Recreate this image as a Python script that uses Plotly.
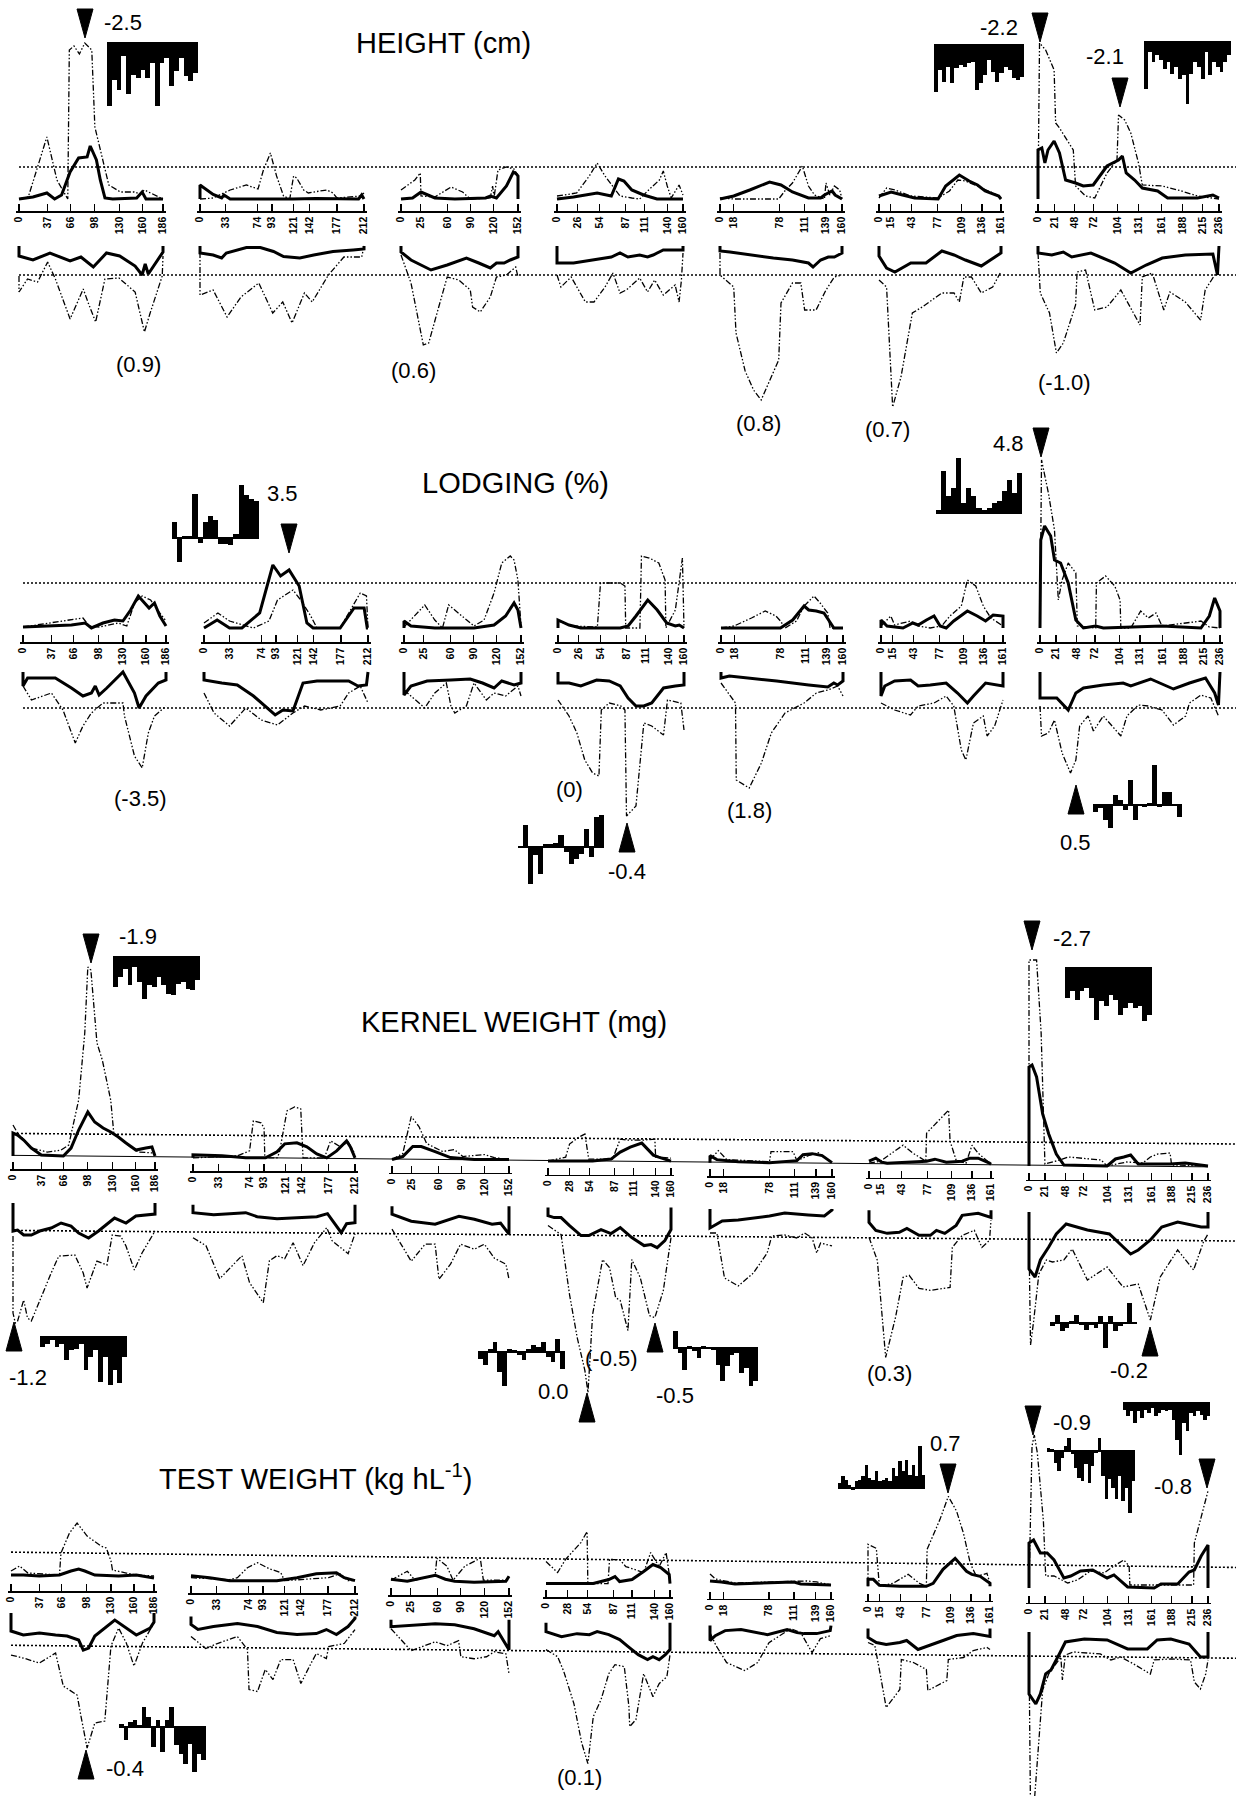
import plotly.graph_objects as go

W, H = 1236, 1796
UNIT = 10.0   # pixels per unit of test statistic
FONT = "Liberation Sans, Arial, Helvetica, sans-serif"

# ---------------- tick labels (cM) ----------------
chr1_ticks = [0, 37, 66, 98, 130, 160, 186]
chr2_ticks = [0, 33, 74, 93, 121, 142, 177, 212]
chr3_ticks = [0, 25, 60, 90, 120, 152]
chr4_ticks_a = [0, 26, 54, 87, 111, 140, 160]
chr4_ticks_b = [0, 28, 54, 87, 111, 140, 160]
chr5_ticks = [0, 18, 78, 111, 139, 160]
chr6_ticks = [0, 15, 43, 77, 109, 136, 161]
chr7_ticks = [0, 21, 48, 72, 104, 131, 161, 188, 215, 236]

# ---------------- HEIGHT profiles: (cM, statistic) ----------------
ht1_up_solid = [(0,0),(18,0.2),(36,0.6),(46,0),(55,0.4),(66,2.7),(77,4.1),(88,4.2),(92,5.3),(100,3.9),(105,1.9),(111,0.1),(121,0),(152,0.1),(159,0.7),(164,0),(186,0)]
ht1_up_dash = [(0,0),(12,0.2),(36,6.2),(49,1.9),(63,0),(65,14.9),(71,15.3),(78,14.5),(85,15.6),(94,14.9),(98,7.2),(106,4.6),(116,1.4),(131,0.7),(149,0.7),(156,0.5),(162,0.9),(186,0)]
ht1_lo_solid = [(0,0),(0,1.0),(18,1.4),(40,0.7),(66,1.5),(80,1.1),(96,2.1),(113,0.7),(130,1.0),(150,2.0),(159,2.9),(163,1.8),(167,2.8),(186,0.6),(186,0)]
ht1_lo_dash = [(0,3.0),(0,4.6),(11,3.3),(24,3.6),(37,1.6),(47,3.3),(66,7.3),(83,4.3),(89,5.6),(99,7.6),(111,3.3),(129,3.2),(150,4.6),(162,8.6),(169,6.8),(185,3.0),(186,1.0)]
ht2_up_solid = [(0,0),(0,1.4),(17,0.45),(28,0.1),(31,0.4),(39,0),(120,0),(150,0.05),(205,0),(209,0.4),(212,0)]
ht2_up_dash = [(0,0),(17,0.1),(39,0.9),(60,1.4),(75,1.0),(82,2.9),(91,4.6),(99,2.3),(108,0.3),(116,0),(121,2.3),(125,2.1),(134,0.9),(140,0.6),(155,0.8),(164,0.9),(172,0.6),(177,0.1),(207,0.3),(212,0.6)]
ht2_lo_solid = [(0,0),(0,0.7),(17,0.9),(28,1.2),(34,0.7),(60,0.15),(78,0.15),(95,0.55),(108,1.05),(129,1.2),(147,0.9),(172,0.55),(198,0.4),(212,0.3),(212,0)]
ht2_lo_dash = [(0,0.6),(0,4.9),(17,4.4),(35,7.1),(53,5.1),(76,3.7),(94,6.7),(107,5.6),(119,7.7),(135,4.7),(145,5.6),(166,2.9),(186,1.1),(209,1.1),(212,0)]
ht3_up_solid = [(0,0),(15,0.1),(26,0.7),(44,0.1),(70,0),(110,0.1),(116,0.3),(124,0.1),(137,1.3),(146,2.7),(150,2.5),(152,2.3),(152,0)]
ht3_up_dash = [(0,0.9),(18,1.9),(25,2.6),(26,0.3),(44,0.2),(65,1.2),(80,0.7),(90,0),(116,0.1),(119,1.3),(121,0.2),(126,2.9),(137,3.2),(147,3.0),(152,2.3)]
ht3_lo_solid = [(0,0),(0,0.6),(13,1.4),(39,2.4),(60,1.9),(85,1.2),(101,1.7),(116,2.2),(124,1.7),(134,1.7),(142,1.4),(152,1.1),(152,0)]
ht3_lo_dash = [(0,0.9),(13,3.7),(29,9.9),(36,9.7),(49,6.1),(60,3.1),(75,3.4),(90,4.4),(93,6.1),(103,6.6),(116,5.1),(124,3.1),(137,2.9),(149,2.1),(152,3.1)]
ht4_up_solid = [(0,0),(21,0.2),(51,0.6),(69,0.3),(78,2.0),(85,1.8),(95,0.9),(110,0.4),(127,0),(160,0)]
ht4_up_dash = [(0,0.3),(25,0.6),(41,2.3),(51,3.6),(61,2.3),(80,0.3),(95,0.1),(105,0),(115,0.8),(130,1.9),(135,2.8),(140,1.3),(145,0.1),(155,1.4),(160,0.4)]
ht4_lo_solid = [(0,0),(0,1.7),(21,1.7),(47,1.4),(69,1.1),(80,0.7),(90,1.1),(105,0.9),(115,1.1),(122,0.9),(135,0.4),(158,0.4),(160,0.4),(160,0)]
ht4_lo_dash = [(0,2.9),(5,4.1),(18,3.1),(36,5.6),(47,5.6),(61,4.1),(71,2.7),(80,4.7),(88,4.4),(105,3.2),(115,4.6),(124,3.4),(135,4.9),(150,3.9),(155,5.6),(158,3.4),(160,0.7)]
ht5_up_solid = [(0,0),(18,0.3),(39,0.9),(65,1.7),(80,1.4),(95,0.7),(116,0.1),(132,0.1),(137,0.4),(147,0.8),(151,0.4),(160,0)]
ht5_up_dash = [(0,0.1),(18,0),(77,0),(85,0.8),(95,1.6),(108,3.3),(116,1.3),(124,0.4),(137,0),(139,1.6),(144,0.4),(150,1.3),(157,0.9),(160,0)]
ht5_lo_solid = [(0,0),(0,0.5),(13,0.6),(39,0.9),(70,1.2),(95,1.4),(116,1.7),(122,2.1),(132,1.4),(142,1.1),(150,1.1),(160,0.7),(160,0)]
ht5_lo_dash = [(0,0.7),(0,2.9),(18,4.1),(21,8.7),(33,12.5),(44,14.4),(54,15.4),(67,13.1),(77,11.4),(80,5.7),(95,3.7),(106,3.7),(111,6.4),(126,6.4),(139,4.4),(150,3.1),(160,2.9)]
ht6_up_solid = [(0,0.3),(16,0.7),(31,0.4),(47,0.1),(78,0),(88,1.3),(106,2.4),(119,1.8),(130,1.4),(140,0.8),(158,0.3),(161,0)]
ht6_up_dash = [(0,0.1),(10,1.1),(21,0.9),(42,0.3),(78,0.1),(93,0.8),(104,1.9),(114,1.8),(130,1.3),(156,0.4),(161,0)]
ht6_lo_solid = [(0,0),(0,1.0),(10,2.2),(21,2.6),(42,1.7),(62,1.7),(83,0.5),(99,0.9),(114,1.4),(135,2.0),(161,0.7),(161,0)]
ht6_lo_dash = [(0,3.4),(10,4.1),(18,16.1),(29,13.1),(44,6.7),(57,6.1),(83,4.7),(99,4.7),(106,5.6),(112,3.1),(122,3.1),(135,4.7),(150,4.1),(160,2.7)]
ht7_up_solid = [(0,0),(0,4.9),(5,5.1),(9,3.6),(13,4.9),(21,5.8),(28,4.6),(36,1.9),(49,1.6),(59,1.3),(72,1.4),(90,3.3),(105,3.9),(110,4.3),(115,2.6),(126,1.9),(136,1.1),(156,0.8),(169,0.1),(208,0.1),(228,0.4),(236,0.1)]
ht7_up_dash = [(0,0),(2,15.6),(10,14.9),(21,12.9),(23,7.6),(28,7.1),(46,4.9),(49,1.3),(62,0.3),(74,0.1),(90,2.6),(103,3.9),(105,8.4),(113,7.9),(121,6.6),(131,3.6),(136,1.4),(162,1.3),(187,0.8),(208,0.3),(236,0)]
ht7_lo_solid = [(0,0),(0,0.7),(18,0.9),(26,0.7),(33,0.6),(44,1.1),(69,0.7),(100,1.7),(121,2.7),(141,1.9),(162,1.2),(192,0.9),(228,0.8),(234,2.9),(236,0)]
ht7_lo_dash = [(0,0.7),(3,4.7),(15,6.7),(24,10.7),(33,9.7),(49,5.9),(51,2.6),(62,2.4),(74,6.4),(90,6.1),(108,4.4),(133,7.9),(136,3.1),(149,2.7),(164,6.4),(172,4.6),(192,5.6),(212,7.4),(218,4.4),(233,2.6),(236,1.0)]

# ---------------- LODGING ----------------
lg1_up_solid = [(0,0.1),(32,0.2),(63,0.3),(81,0.5),(89,0),(104,0.5),(119,0.8),(130,0.7),(140,1.8),(150,3.2),(158,2.5),(164,2.0),(171,2.5),(178,1.2),(186,0.2)]
lg1_up_dash = [(0,0.1),(47,0.7),(60,0.8),(78,1.0),(86,0.2),(99,0.1),(124,0.5),(135,0.2),(145,2.5),(155,3.2),(166,2.8),(173,2.0),(186,0.7)]
lg1_lo_solid = [(0,0),(0,1.4),(6,0.6),(22,0.6),(42,0.6),(63,1.6),(78,2.4),(89,2.1),(94,1.4),(99,2.3),(109,1.6),(130,0),(145,2.1),(151,3.6),(160,2.4),(176,1.1),(186,0.8),(186,0)]
lg1_lo_dash = [(0,1.4),(11,2.8),(37,2.1),(52,3.8),(68,7.1),(78,5.4),(89,4.1),(104,3.1),(130,3.1),(132,4.4),(145,8.4),(155,9.6),(163,6.1),(171,4.4),(186,3.4)]
lg2_up_solid = [(0,0),(17,0.8),(33,0),(49,0),(72,1.5),(89,6.3),(99,5.2),(110,5.8),(123,4.2),(133,0.5),(141,0),(176,0),(194,2.0),(207,2.0),(211,0),(212,0)]
lg2_up_dash = [(0,0.5),(18,1.5),(33,0.7),(64,0),(84,0.7),(95,2.8),(115,3.8),(125,2.8),(138,1.2),(146,0),(176,0),(187,1.5),(202,3.5),(210,3.2),(212,0)]
lg2_lo_solid = [(0,0),(0,0.8),(23,1.1),(43,1.3),(64,2.4),(79,3.4),(92,4.3),(102,3.8),(115,3.9),(128,1.1),(146,0.9),(187,0.9),(199,1.4),(210,1.3),(212,0)]
lg2_lo_dash = [(0,2.1),(13,4.1),(33,5.4),(54,3.6),(74,4.8),(95,5.3),(115,4.1),(130,3.4),(151,3.8),(176,3.4),(187,2.1),(202,1.4),(212,3.1)]
lg3_up_solid = [(0,0),(0,0.7),(9,0.2),(40,0),(91,0),(117,0.3),(132,1.2),(143,2.5),(148,1.8),(152,0)]
lg3_up_dash = [(0,0.1),(14,1.2),(27,2.3),(40,0.8),(50,0),(58,2.3),(71,1.5),(91,0.2),(104,0.8),(117,3.5),(127,6.5),(138,7.2),(143,6.8),(148,4.8),(152,0.2)]
lg3_lo_solid = [(0,0),(0,2.3),(9,1.4),(30,0.9),(61,0.8),(86,0.7),(102,1.1),(117,1.6),(127,0.9),(143,1.3),(152,1.1),(152,0)]
lg3_lo_dash = [(0,1.8),(20,3.1),(27,3.6),(40,2.1),(55,1.1),(61,3.4),(66,4.1),(81,3.4),(91,1.1),(107,2.8),(117,2.1),(132,2.4),(148,1.4),(152,2.4)]
lg4_up_solid = [(0,0),(0,0.8),(14,0.3),(29,0),(79,0),(89,0.2),(99,1.2),(114,2.8),(126,1.8),(138,0.5),(149,0.2),(154,0.3),(160,0)]
lg4_up_dash = [(0,0.7),(19,0.2),(50,0.1),(54,4.5),(79,4.5),(85,4.2),(86,0),(104,0),(106,7.2),(116,7.0),(128,6.5),(136,4.8),(137,0),(149,1.8),(158,7.0),(160,0)]
lg4_lo_solid = [(0,0),(0,1.1),(14,1.1),(29,1.4),(49,0.8),(65,0.9),(79,1.4),(89,2.6),(99,3.4),(109,3.4),(119,3.1),(134,1.6),(149,1.4),(160,1.3),(160,0)]
lg4_lo_dash = [(0,2.8),(14,4.4),(24,6.1),(34,8.8),(44,10.1),(52,10.4),(55,3.8),(65,3.1),(80,3.4),(85,3.8),(87,14.4),(99,13.4),(109,5.1),(119,5.4),(134,6.3),(139,2.8),(156,3.1),(160,5.8)]
lg5_up_solid = [(0,0),(78,0),(94,0.8),(109,2.2),(115,1.8),(125,1.7),(135,1.5),(148,0),(160,0)]
lg5_up_dash = [(0,0),(17,0.2),(40,1.0),(58,1.7),(72,1.2),(78,0.7),(84,0),(99,0.7),(109,2.2),(122,3.2),(130,2.5),(140,1.5),(143,0),(160,0)]
lg5_lo_solid = [(0,0),(0,0.6),(11,0.4),(37,0.6),(73,0.9),(115,1.3),(140,1.5),(148,1.1),(153,1.3),(160,0.9),(160,0)]
lg5_lo_dash = [(0,1.1),(19,3.1),(20,10.8),(37,11.6),(53,9.1),(66,6.1),(84,4.1),(109,3.1),(125,2.1),(140,1.8),(153,1.4),(160,2.4)]
lg6_up_solid = [(0,0),(0,0.8),(8,0.2),(29,0),(42,0.5),(49,0.3),(60,0.8),(70,1.2),(78,0.2),(86,0),(96,0.7),(114,1.7),(127,1.2),(138,0.7),(148,1.3),(161,1.2),(161,0)]
lg6_up_dash = [(0,0.2),(13,1.2),(18,0.3),(39,0.7),(49,0.2),(65,0),(80,0.2),(91,1.2),(106,2.2),(114,4.8),(125,4.2),(135,2.2),(145,1.0),(161,0.2)]
lg6_lo_solid = [(0,0),(0,2.4),(5,1.4),(18,0.9),(39,0.8),(49,1.4),(65,1.3),(86,1.1),(101,2.1),(114,3.1),(122,2.4),(138,1.1),(161,1.4),(161,0)]
lg6_lo_dash = [(0,3.1),(18,3.8),(39,4.3),(49,3.4),(70,3.1),(86,2.4),(96,3.4),(106,7.8),(112,8.8),(122,5.1),(135,4.4),(140,6.4),(150,5.4),(161,2.8)]
lg7_up_solid = [(0,0),(1,8.8),(6,10.2),(14,9.2),(19,6.8),(27,6.5),(37,4.5),(47,0.8),(57,0),(73,0.2),(83,0),(119,0.1),(160,0.2),(211,0),(222,1.2),(229,3.0),(236,1.7),(236,0)]
lg7_up_dash = [(0,0),(2,16.8),(11,13.5),(19,9.8),(24,2.8),(29,4.8),(37,6.5),(47,5.5),(49,0.2),(73,0),(74,4.5),(86,5.2),(98,4.2),(105,2.8),(106,0),(119,0),(132,1.7),(142,1.0),(152,1.5),(160,0.2),(191,0.5),(211,0.7),(222,0.1),(236,0)]
lg7_lo_solid = [(0,0),(0,2.6),(22,2.6),(32,3.4),(37,3.8),(47,2.1),(57,1.6),(83,1.3),(109,1.1),(119,1.4),(145,0.7),(175,1.7),(196,1.1),(217,0.6),(229,2.1),(234,3.3),(236,0)]
lg7_lo_dash = [(0,3.4),(2,6.4),(11,6.1),(19,4.8),(22,5.8),(29,8.1),(40,10.1),(47,8.8),(52,5.4),(63,4.4),(70,5.9),(83,4.4),(106,6.4),(114,4.4),(129,3.3),(142,3.4),(160,3.8),(175,5.3),(191,4.4),(196,3.1),(211,2.3),(224,2.6),(234,4.4)]

# ---------------- KERNEL WEIGHT ----------------
kw1_up_solid = [(0,0),(0,2.3),(6,2.1),(14,1.6),(24,0.8),(37,0.1),(66,0),(76,0.8),(86,2.6),(98,4.4),(107,3.4),(118,2.8),(128,2.4),(138,1.9),(148,1.3),(161,0.6),(174,0.8),(182,0.9),(186,0)]
kw1_up_dash = [(0,3.1),(6,2.3),(24,0.8),(45,0.4),(63,0.6),(73,1.1),(86,5.6),(94,12.3),(98,18.9),(102,18.6),(110,11.3),(117,9.6),(128,5.6),(132,2.3),(138,1.9),(154,0.9),(164,0.4),(186,0.3)]
kw1_lo_solid = [(0,0),(0,2.8),(6,2.7),(14,3.2),(24,3.2),(35,2.8),(50,2.5),(63,2.0),(76,2.3),(86,3.0),(99,3.5),(112,2.8),(133,1.5),(148,2.0),(161,1.3),(179,1.2),(186,1.1),(186,0)]
kw1_lo_dash = [(0,3.3),(0,11.0),(3,12.0),(6,11.8),(14,9.7),(19,11.5),(24,11.8),(35,9.7),(50,7.0),(60,5.3),(81,5.2),(92,7.0),(97,8.5),(110,5.8),(123,6.2),(130,3.2),(141,3.3),(148,4.3),(159,6.7),(169,5.0),(186,2.8)]
kw2_up_solid = [(0,0),(0,0.3),(38,0.2),(69,0),(95,0),(110,0.6),(120,1.4),(136,1.5),(149,1.1),(162,0.4),(175,0),(188,0.7),(201,1.7),(206,1.1),(212,0)]
kw2_up_dash = [(0,0),(58,0.2),(74,0.7),(79,3.7),(89,3.5),(93,3.0),(94,0),(110,0),(113,0.5),(123,4.7),(133,5.1),(141,4.9),(144,0),(172,0),(180,1.7),(193,1.1),(203,1.6),(212,0.4)]
kw2_lo_solid = [(0,0),(0,0.8),(27,1.0),(69,0.8),(84,1.2),(110,1.4),(136,1.3),(162,1.2),(176,0.9),(194,2.8),(201,1.9),(212,1.8),(212,0)]
kw2_lo_dash = [(0,3.3),(17,4.1),(35,7.4),(64,5.1),(74,7.8),(92,9.8),(100,5.6),(110,5.1),(120,5.4),(131,3.8),(144,6.1),(159,3.8),(175,2.3),(182,3.6),(203,4.9),(212,2.9)]
kw3_up_solid = [(0,0),(14,0.3),(27,1.3),(38,1.3),(56,0.8),(76,0.2),(107,0),(152,0)]
kw3_up_dash = [(0,0),(14,0.6),(25,4.3),(35,3.3),(45,1.6),(66,0.8),(81,1.0),(92,0.3),(120,0.5),(133,0.2),(152,0)]
kw3_lo_solid = [(0,0),(0,0.8),(25,1.5),(56,1.8),(87,1.0),(107,1.3),(130,1.8),(141,1.7),(152,2.8),(152,0)]
kw3_lo_dash = [(0,2.3),(25,5.5),(43,3.8),(56,3.8),(61,7.3),(76,5.8),(89,3.8),(107,4.3),(120,3.8),(133,5.2),(148,5.8),(152,7.3)]
kw4_up_solid = [(0,0),(58,0),(70,0.1),(82,0.2),(94,0.9),(107,1.4),(122,1.8),(137,0.6),(144,0.4),(160,0)]
kw4_up_dash = [(0,0),(23,0.4),(28,1.7),(40,2.4),(48,2.7),(53,0.2),(84,0.2),(90,1.5),(94,2.2),(104,2.1),(124,2.1),(139,2.2),(140,0.4),(160,0.3)]
kw4_lo_solid = [(0,0),(0,0.8),(8,1.0),(17,1.0),(28,1.8),(43,2.8),(53,2.8),(69,2.2),(82,2.6),(94,2.0),(109,3.0),(125,3.8),(134,3.7),(142,4.0),(152,3.3),(160,2.2),(160,0)]
kw4_lo_dash = [(0,1.8),(17,2.7),(28,8.7),(38,13.0),(48,16.3),(52,18.5),(58,10.7),(71,5.2),(80,6.0),(88,9.0),(94,9.3),(104,12.3),(109,5.2),(120,7.0),(132,10.8),(139,11.0),(150,8.3),(160,3.0)]
kw5_up_solid = [(0,0),(0,0.7),(9,0.3),(37,0.1),(78,0),(114,0.2),(122,0.8),(134,0.9),(147,0.7),(160,0)]
kw5_up_dash = [(0,0.3),(11,1.2),(22,0.3),(78,0.1),(80,1.1),(109,1.1),(114,0.2),(129,0.7),(142,1.0),(155,0.3),(160,0)]
kw5_lo_solid = [(0,0),(0,1.9),(16,1.2),(37,1.1),(78,0.7),(98,0.4),(129,0.6),(150,0.7),(160,0.1),(160,0)]
kw5_lo_dash = [(0,2.4),(9,2.4),(19,6.9),(37,7.7),(57,6.4),(75,4.4),(81,2.7),(98,2.6),(114,2.9),(124,2.4),(134,2.9),(140,4.4),(145,3.4),(160,3.7)]
kw6_up_solid = [(0,0.3),(9,0.6),(17,0.2),(24,0.1),(76,0.3),(87,0.5),(102,0.2),(123,0.3),(133,0.6),(144,0.6),(159,0.1),(161,0)]
kw6_up_dash = [(0,0.1),(15,0.3),(30,1.1),(45,1.9),(58,1.1),(75,0.3),(76,3.1),(89,4.1),(105,5.4),(107,2.3),(115,0.4),(128,0.1),(136,1.9),(144,1.1),(161,0)]
kw6_lo_solid = [(0,0),(0,1.2),(9,2.0),(24,2.3),(40,2.2),(50,1.8),(66,2.5),(81,2.5),(89,2.0),(100,2.3),(115,1.5),(123,0.5),(144,0.3),(161,0.7),(161,0)]
kw6_lo_dash = [(0,2.7),(11,5.0),(22,14.7),(35,10.7),(45,6.7),(53,6.5),(66,7.8),(81,8.0),(107,7.7),(110,3.7),(123,2.5),(139,2.0),(149,3.7),(159,3.0),(161,1.0)]
kw7_up_solid = [(0,0),(0,9.9),(4,10.1),(10,8.9),(18,5.2),(26,3.2),(36,1.2),(46,0.1),(103,0),(114,0.7),(125,0.9),(134,1.1),(144,0.2),(186,0.2),(206,0.3),(236,0)]
kw7_up_dash = [(0,0),(0,20.6),(10,20.6),(16,13.3),(21,0.2),(41,0.6),(52,0.9),(75,0.7),(95,0.6),(103,0),(129,0.4),(150,0.3),(160,0.9),(170,1.2),(186,1.3),(188,0.1),(236,0)]
kw7_lo_solid = [(0,0),(0,5.7),(8,6.5),(15,4.8),(26,3.5),(36,2.2),(49,1.2),(77,1.8),(106,2.2),(134,4.2),(144,3.8),(160,2.8),(175,1.5),(196,1.0),(227,1.5),(236,1.5),(236,0)]
kw7_lo_dash = [(0,2.8),(2,13.3),(6,11.0),(13,6.2),(23,4.8),(31,5.0),(46,4.8),(57,3.7),(77,6.8),(103,5.5),(124,7.5),(144,7.2),(160,10.8),(173,6.5),(196,3.8),(217,5.8),(230,3.0),(236,2.2)]

# ---------------- TEST WEIGHT ----------------
tw1_up_solid = [(0,0.4),(16,0.4),(37,0.3),(63,0.4),(78,0.8),(88,1.0),(96,0.8),(109,0.4),(140,0.3),(163,0.4),(186,0.1)]
tw1_up_dash = [(0,0.8),(11,1.3),(22,0.6),(63,0.4),(65,2.6),(76,4.6),(86,5.6),(99,4.3),(117,3.3),(124,3.1),(130,1.8),(132,0.9),(150,0.6),(163,0.4),(186,0.3)]
tw1_lo_solid = [(0,0),(0,1.8),(16,2.2),(37,2.0),(58,2.2),(73,2.3),(88,2.7),(94,3.7),(101,3.5),(109,2.3),(135,0.7),(150,1.5),(163,2.2),(181,1.5),(186,0.9),(186,0)]
tw1_lo_dash = [(0,4.2),(16,4.5),(37,5.0),(58,4.0),(68,7.3),(86,8.2),(91,10.3),(99,13.5),(109,11.0),(122,10.8),(130,3.3),(140,1.5),(150,3.0),(160,5.3),(171,3.0),(186,1.0)]
tw2_up_solid = [(0,0.5),(24,0.3),(50,0),(111,0),(137,0.3),(162,0.7),(188,0.8),(198,0.3),(212,0)]
tw2_up_dash = [(0,0.3),(50,0.1),(60,0.3),(73,1.3),(86,1.8),(101,1.2),(116,0.8),(121,0),(178,0.3),(193,0.7),(203,0),(212,0)]
tw2_lo_solid = [(0,0),(0,0.8),(9,1.3),(29,1.0),(60,0.7),(86,1.0),(111,1.6),(137,1.8),(162,1.7),(175,1.3),(188,1.8),(203,1.0),(212,0.2),(212,0)]
tw2_lo_dash = [(0,2.0),(19,3.2),(34,2.7),(60,2.0),(73,3.3),(75,7.3),(86,7.5),(96,5.3),(106,6.3),(116,4.3),(132,4.3),(142,6.7),(155,4.7),(162,3.7),(175,4.2),(178,3.0),(198,2.7),(212,1.3)]
tw3_up_solid = [(0,0.3),(21,0.1),(57,0.7),(70,0.3),(82,0.1),(107,0),(148,0.1),(152,0.6)]
tw3_up_dash = [(0,0.2),(21,1.1),(31,0.2),(57,0.7),(59,2.4),(72,1.6),(80,0.2),(95,1.6),(115,2.4),(119,0.2),(152,0.2)]
tw3_lo_solid = [(0,0),(0,0.7),(57,0.4),(82,0.5),(107,0.9),(133,1.6),(138,1.2),(148,2.4),(152,3.0),(152,0)]
tw3_lo_dash = [(0,0.9),(26,3.1),(57,2.2),(72,2.6),(87,2.1),(90,3.7),(107,3.9),(123,3.7),(133,3.2),(148,3.4),(152,5.4)]
tw4_up_solid = [(0,0),(61,0),(81,0.4),(89,0.7),(95,0.2),(111,0.4),(126,1.2),(138,1.9),(148,1.6),(159,0.9),(160,0)]
tw4_up_dash = [(0,2.2),(15,1.1),(25,2.4),(45,4.1),(53,5.2),(54,0),(80,0),(82,2.4),(95,2.4),(103,1.7),(126,1.1),(135,3.1),(146,1.7),(155,3.1),(160,0.4)]
tw4_lo_solid = [(0,0),(0,0.9),(20,1.4),(40,1.1),(56,1.2),(66,0.9),(81,1.2),(95,1.7),(106,2.4),(119,3.2),(131,3.7),(138,3.4),(146,3.7),(154,3.2),(160,2.7),(160,0)]
tw4_lo_dash = [(0,2.7),(15,3.4),(23,4.9),(36,8.1),(46,12.0),(54,14.1),(61,9.4),(71,7.7),(81,5.1),(89,4.2),(101,4.4),(107,8.4),(108,10.4),(116,9.7),(126,5.1),(138,7.4),(146,6.1),(156,5.4),(160,3.2)]
tw5_up_solid = [(0,0.4),(15,0.3),(33,0.1),(76,0.2),(111,0.3),(120,0.1),(160,0)]
tw5_up_dash = [(0,1.1),(7,0.6),(33,0.2),(111,0.4),(128,0.4),(141,0.3),(160,0)]
tw5_lo_solid = [(0,0),(0,1.5),(7,1.0),(20,0.5),(41,0.4),(76,0.9),(102,0.4),(115,0.7),(124,0.8),(141,0.8),(159,0.5),(160,0)]
tw5_lo_dash = [(0,0.7),(8,2.0),(22,3.7),(46,4.5),(63,3.7),(78,1.7),(107,0.3),(120,0.7),(135,2.7),(146,1.3),(160,1.0)]
tw6_up_solid = [(0,0),(0,0.7),(7,0.7),(15,0.1),(42,0),(77,0),(86,0.3),(99,1.7),(115,2.8),(130,1.5),(137,1.2),(148,1.0),(161,0.3),(161,0)]
tw6_up_dash = [(0,0),(0,4.2),(11,3.8),(15,0),(33,0.3),(42,0.7),(53,1.2),(68,0.3),(77,0),(78,3.7),(95,6.7),(106,9.0),(117,7.5),(126,5.3),(135,2.3),(143,1.0),(157,1.3),(161,0.3)]
tw6_lo_solid = [(0,0),(0,0.9),(11,1.4),(24,1.6),(42,1.4),(51,1.2),(66,2.1),(82,1.7),(99,1.2),(117,0.7),(139,0.5),(161,0.8),(161,0)]
tw6_lo_dash = [(0,1.4),(9,1.7),(15,4.1),(24,7.9),(42,6.1),(44,3.1),(60,3.4),(77,4.1),(79,6.2),(104,5.2),(106,3.1),(126,2.9),(139,2.2),(157,1.9),(161,2.1)]
tw7_up_solid = [(0,0),(0,4.5),(6,4.8),(15,3.5),(24,3.5),(33,2.8),(46,1.0),(55,1.2),(68,1.7),(84,1.8),(103,1.0),(112,1.3),(130,0.1),(165,0),(174,0.4),(196,0.4),(211,1.6),(218,1.8),(227,3.2),(236,4.3),(236,0)]
tw7_up_dash = [(0,0),(1,3.0),(4,14.2),(7,15.3),(11,13.5),(19,6.7),(22,1.2),(33,1.2),(51,0.5),(64,0.8),(81,1.7),(99,1.5),(112,2.2),(125,2.8),(132,2.2),(133,0.3),(182,0.3),(217,0.3),(218,4.5),(226,6.8),(236,9.7)]
tw7_lo_solid = [(0,0),(0,6.2),(9,7.2),(15,6.2),(22,4.2),(29,3.8),(40,2.2),(48,1.0),(73,0.7),(103,0.8),(130,1.7),(156,1.7),(169,0.8),(187,0.7),(211,1.2),(226,2.5),(236,2.5),(236,0)]
tw7_lo_dash = [(0,1.8),(1,12.0),(2,18.0),(6,18.0),(10,14.0),(13,11.5),(18,5.8),(26,4.2),(42,2.5),(44,4.8),(48,2.3),(59,2.0),(94,2.2),(108,2.8),(121,2.5),(138,3.2),(160,4.2),(165,2.8),(187,2.7),(213,2.8),(218,5.0),(226,5.7),(233,4.2),(236,2.8)]

# ---------------- inset bar charts (effects by environment) ----------------
h_ins1 = [-6.3,-3.7,-4.7,-1.3,-5.1,-3.2,-3.5,-2.7,-3.5,-2.0,-6.3,-2.0,-1.5,-4.3,-2.8,-1.5,-3.3,-3.8,-3.0]
h_ins2 = [-4.7,-2.5,-3.7,-2.2,-3.8,-2.3,-2.0,-2.2,-1.8,-1.7,-4.5,-3.8,-3.0,-1.5,-2.7,-3.7,-2.8,-2.2,-2.5,-3.3,-3.5,-3.2]
h_ins3 = [-4.7,-1.0,-2.0,-1.3,-1.8,-2.7,-2.0,-3.2,-2.5,-3.7,-3.3,-6.2,-3.2,-2.0,-2.5,-3.7,-1.0,-3.3,-2.0,-2.5,-3.0,-2.0,-1.3]
l_ins1 = [1.6,-2.4,0.2,0.2,4.4,-0.5,1.6,2.2,1.8,-0.6,-0.6,-0.7,0.4,5.3,4.3,3.9,3.7]
l_ins2 = [0.3,4.2,1.7,2.5,5.5,1.0,2.5,1.7,0.5,0.3,0.5,1.0,1.2,2.2,3.3,2.0,4.0]
l_ins3 = [0.0,2.2,-3.7,-0.8,-2.7,0.3,0.3,0.4,1.2,-0.5,-1.7,-1.2,-0.7,1.8,-1.0,3.0,3.2]
l_ins4 = [-0.7,-0.3,-1.5,-2.3,1.0,0.5,-0.5,2.5,-1.5,0.1,-0.2,0.2,4.0,-0.2,1.3,1.3,0.1,-1.2]
k_ins1 = [-3.0,-2.0,-1.2,-2.8,-1.0,-2.5,-4.2,-2.8,-3.0,-2.0,-2.8,-3.7,-3.8,-2.7,-2.5,-3.2,-3.3,-2.3]
k_ins2 = [-1.0,-0.7,-0.3,-1.0,-0.7,-2.3,-1.3,-1.2,-0.7,-3.3,-2.0,-1.3,-4.5,-2.0,-4.8,-3.3,-4.6,-2.0]
k_ins3 = [-0.7,-1.3,0.3,1.0,-2.0,-3.4,0.3,0.2,-0.3,-0.8,0.3,0.7,0.5,1.0,-0.5,-1.0,1.3,-1.7]
k_ins4 = [1.7,-0.5,-2.2,0.2,-0.3,-1.0,0.2,0.1,-0.2,-1.7,-3.3,-1.8,-0.7,-0.5,-2.5,-2.0,-3.8,-3.3]
k_ins5 = [-3.0,-2.3,-3.2,-2.3,-2.0,-3.0,-5.2,-3.3,-3.8,-2.7,-3.2,-4.7,-4.0,-3.5,-4.0,-3.8,-5.3,-4.7]
k_ins6 = [-0.3,0.8,-0.8,-0.5,0.2,0.8,-0.2,-0.7,-0.2,-0.5,0.7,-2.5,0.7,-0.8,-0.3,0.1,2.0,0.1]
t_ins1 = [0.3,-1.3,0.5,0.7,0.2,2.0,1.0,-2.0,0.7,-2.5,0.7,2.0,-1.8,-2.7,-3.7,-1.7,-4.5,-2.7,-3.3]
t_ins2 = [0.5,1.2,0.8,0.3,-0.2,0.7,0.8,1.2,2.3,1.0,0.8,1.7,0.7,0.8,1.0,0.7,2.0,1.2,2.7,1.7,2.8,1.3,2.3,1.2,4.2,1.3]
t_ins3 = [0.3,0.2,-1.2,-2.0,-0.7,0.5,1.3,-0.3,-1.7,-2.7,-3.0,-1.3,-3.2,-1.5,-0.2,1.3,-2.5,-4.8,-2.8,-3.7,-4.8,-2.5,-5.0,-3.7,-6.2,-3.0]
t_ins4 = [-0.7,-1.3,-0.8,-2.0,-0.8,-1.5,-0.7,-1.0,-0.5,-1.3,-1.0,-0.7,-0.8,-0.7,-1.7,-3.7,-5.2,-2.0,-2.8,-1.0,-1.3,-0.8,-1.2,-1.7,-1.3]

# ---------------- layout geometry (pixels) ----------------
TRAITS = ['height', 'lodging', 'kernel', 'test']
PREFIX = {'height': 'ht', 'lodging': 'lg', 'kernel': 'kw', 'test': 'tw'}
TICKS = {
    'height': [chr1_ticks, chr2_ticks, chr3_ticks, chr4_ticks_a, chr5_ticks, chr6_ticks, chr7_ticks],
    'lodging': [chr1_ticks, chr2_ticks, chr3_ticks, chr4_ticks_a, chr5_ticks, chr6_ticks, chr7_ticks],
    'kernel': [chr1_ticks, chr2_ticks, chr3_ticks, chr4_ticks_b, chr5_ticks, chr6_ticks, chr7_ticks],
    'test': [chr1_ticks, chr2_ticks, chr3_ticks, chr4_ticks_b, chr5_ticks, chr6_ticks, chr7_ticks],
}
CHR_X = {
    'height': [(19,163),(200,364),(401,518),(557,683),(720,842),(879,1001),(1038,1219)],
    'lodging': [(23,166),(204,368),(404,521),(558,684),(721,843),(881,1003),(1040,1220)],
    'kernel': [(13,155),(193,355),(392,509),(548,671),(710,832),(869,991),(1029,1208)],
    'test': [(11,154),(191,355),(391,509),(546,670),(710,831),(868,990),(1029,1208)],
}
# (upper threshold, upper zero, axis line, lower zero, lower threshold) at x=80 and x=1120
GEOM = {
    'height': ((167,199,211,246,275), (167,199,211,246,275)),
    'lodging': ((583,628,642,672,708), (583,628,642,672,708)),
    'kernel': ((1134,1156,1169,1203,1231), (1143,1166,1180,1212,1240)),
    'test': ((1553,1579,1591,1613,1646), (1566,1588,1603,1632,1657)),
}
X_LEFT, X_RIGHT = 80.0, 1120.0
TITLES = [("HEIGHT (cm)", 443, 43), ("LODGING (%)", 515, 483),
          ("KERNEL WEIGHT (mg)", 514, 1022), ("TEST WEIGHT (kg hL<sup>-1</sup>)", 316, 1477)]
LABELS = [("-2.5",123,22),("-2.2",999,28),("-2.1",1105,57),("(0.9)",138,365),("(0.6)",413,370),
          ("(0.8)",759,423),("(0.7)",887,430),("(-1.0)",1064,382),
          ("3.5",282,493),("4.8",1008,443),("(-3.5)",140,798),("(0)",569,790),("(1.8)",750,810),
          ("-0.4",627,871),("0.5",1075,842),
          ("-1.9",138,937),("-2.7",1072,938),("-1.2",28,1377),("0.0",553,1391),("(-0.5)",611,1358),
          ("-0.5",675,1395),("(0.3)",889,1373),("-0.2",1129,1370),
          ("0.7",945,1443),("-0.9",1072,1422),("-0.8",1173,1486),("-0.4",125,1768),("(0.1)",579,1777)]
TRIANGLES = [(85,38,'down'),(1040,42,'down'),(1120,107,'down'),
             (289,553,'down'),(1041,457,'down'),(627,823,'up'),(1076,785,'up'),
             (91,963,'down'),(14,1322,'up'),(587,1393,'up'),(655,1323,'up'),(1032,950,'down'),(1150,1327,'up'),
             (86,1750,'up'),(948,1493,'down'),(1033,1435,'down'),(1207,1488,'down')]
INSETS = [(h_ins1,107,198,43),(h_ins2,934,1024,45),(h_ins3,1144,1231,42),
          (l_ins1,172,259,538),(l_ins2,936,1022,513),(l_ins3,518,604,847),(l_ins4,1093,1182,805),
          (k_ins1,113,200,957),(k_ins2,40,127,1337),(k_ins3,478,565,1352),(k_ins4,673,758,1348),
          (k_ins5,1065,1152,968),(k_ins6,1050,1137,1323),
          (t_ins1,119,206,1727),(t_ins2,838,925,1488),(t_ins3,1047,1135,1451),(t_ins4,1123,1210,1403)]


def geo(trait, x):
    a, b = GEOM[trait]
    f = (x - X_LEFT) / (X_RIGHT - X_LEFT)
    keys = ('thrU', 'zeroU', 'axis', 'Z', 'thrL')
    return {k: a[i] + f * (b[i] - a[i]) for i, k in enumerate(keys)}


def fy(p):
    return min(1.0, max(0.0, 1 - p / H))


def fx(p):
    return min(1.0, max(0.0, p / W))


layout = {}
traces = []
shapes = []
annotations = []
n_axes = [0]


def add_axes(xd, yd, xc, yc):
    n_axes[0] += 1
    n = n_axes[0]
    s = '' if n == 1 else str(n)
    layout['xaxis' + s] = dict(domain=xd, anchor='y' + s, automargin=False, fixedrange=True, **xc)
    layout['yaxis' + s] = dict(domain=yd, anchor='x' + s, automargin=False, fixedrange=True, **yc)
    return 'x' + s, 'y' + s


SOLID = dict(color='black', width=3)
DASH = dict(color='black', width=1.3, dash='6px,2px,1.5px,2px,1.5px,2px')
PAD = 3

for trait in TRAITS:
    pre = PREFIX[trait]
    for ci in range(7):
        ticks = TICKS[trait][ci]
        L = ticks[-1]
        xs, xe = CHR_X[trait][ci]
        g = geo(trait, (xs + xe) / 2.0)
        ppc = (xe - xs) / L
        xdom = [fx(xs - PAD), fx(xe + PAD)]
        xr = [-PAD / ppc, L + PAD / ppc]
        up_s, up_d, lo_s, lo_d = [globals()[f'{pre}{ci + 1}_{k}'] for k in
                                  ('up_solid', 'up_dash', 'lo_solid', 'lo_dash')]
        # upper panel (positive profile) carrying the marker axis
        top_px = max(g['zeroU'] - 235, 0)
        xa, ya = add_axes(
            xdom, [fy(g['axis']), fy(top_px)],
            dict(range=xr, showline=True, linecolor='black', linewidth=1.5, ticks='inside', ticklen=7,
                 tickwidth=1.2, tickcolor='black', tickmode='array', tickvals=ticks,
                 ticktext=[str(t) for t in ticks], tickangle=-90, ticklabeloverflow='allow',
                 tickfont=dict(size=10.5, family=FONT, color='black', weight='bold'),
                 showgrid=False, zeroline=False),
            dict(range=[-(g['axis'] - g['zeroU']) / UNIT, (g['zeroU'] - top_px) / UNIT], visible=False))
        for data, style in ((up_d, DASH), (up_s, SOLID)):
            traces.append(go.Scatter(x=[p[0] for p in data], y=[p[1] for p in data], mode='lines',
                                     line=style, xaxis=xa, yaxis=ya, hoverinfo='skip'))
        # lower panel (hanging profile)
        bot_px = min(g['Z'] + 200, H)
        xa, ya = add_axes(
            xdom, [fy(bot_px), fy(g['Z'] - PAD)],
            dict(range=xr, visible=False),
            dict(range=[(bot_px - g['Z']) / UNIT, -PAD / UNIT], visible=False))
        for data, style in ((lo_d, DASH), (lo_s, SOLID)):
            traces.append(go.Scatter(x=[p[0] for p in data], y=[p[1] for p in data], mode='lines',
                                     line=style, xaxis=xa, yaxis=ya, hoverinfo='skip'))

    # significance threshold lines
    x0 = CHR_X[trait][0][0]
    g0, g1 = geo(trait, x0), geo(trait, W)
    for key in ('thrU', 'thrL'):
        shapes.append(dict(type='line', xref='paper', yref='paper', x0=fx(x0), x1=1.0,
                           y0=fy(g0[key]), y1=fy(g1[key]),
                           line=dict(color='black', width=1.6, dash='2px,2px')))
    if trait == 'kernel':
        xe_last = CHR_X[trait][6][1]
        g2 = geo(trait, xe_last)
        shapes.append(dict(type='line', xref='paper', yref='paper', x0=fx(x0), x1=fx(xe_last),
                           y0=fy(g0['zeroU']), y1=fy(g2['zeroU']), line=dict(color='black', width=1)))

# inset bar charts
for vals, x0, x1, base in INSETS:
    lo = min(0.0, min(vals)) - 0.15
    hi = max(0.0, max(vals)) + 0.15
    xa, ya = add_axes(
        [fx(x0), fx(x1)], [fy(base - lo * UNIT), fy(base - hi * UNIT)],
        dict(range=[-0.5, len(vals) - 0.5], visible=False),
        dict(range=[lo, hi], showgrid=False, showticklabels=False, ticks='', showline=False,
             zeroline=True, zerolinecolor='black', zerolinewidth=1.5))
    traces.append(go.Bar(x=list(range(len(vals))), y=vals, xaxis=xa, yaxis=ya,
                         marker=dict(color='black', line=dict(width=0)), hoverinfo='skip'))

# triangles marking QTL positions
for x, ytip, d in TRIANGLES:
    w, h = 8, 29
    path = f"M {-w},{h} L {w},{h} L 0,0 Z" if d == 'down' else f"M {-w},{-h} L {w},{-h} L 0,0 Z"
    shapes.append(dict(type='path', xref='paper', yref='paper', xsizemode='pixel', ysizemode='pixel',
                       xanchor=fx(x), yanchor=fy(ytip), path=path, fillcolor='black',
                       line=dict(color='black', width=1)))

for text, x, y in TITLES:
    annotations.append(dict(text=text, x=fx(x), y=fy(y), xref='paper', yref='paper', showarrow=False,
                            xanchor='center', yanchor='middle', font=dict(size=29, family=FONT, color='black')))
for text, x, y in LABELS:
    annotations.append(dict(text=text, x=fx(x), y=fy(y), xref='paper', yref='paper', showarrow=False,
                            xanchor='center', yanchor='middle', font=dict(size=22, family=FONT, color='black')))

fig = go.Figure(data=traces)
fig.update_layout(width=W, height=H, autosize=False, margin=dict(l=0, r=0, t=0, b=0, pad=0),
                  template='none', paper_bgcolor='white', plot_bgcolor='rgba(0,0,0,0)',
                  showlegend=False, bargap=0, hovermode=False,
                  shapes=shapes, annotations=annotations, **layout)
fig.write_html("out.html",
               config={'displayModeBar': False, 'staticPlot': True},
               post_script="document.body.style.margin='0';document.body.style.padding='0';"
                           "document.documentElement.style.overflow='hidden';")
